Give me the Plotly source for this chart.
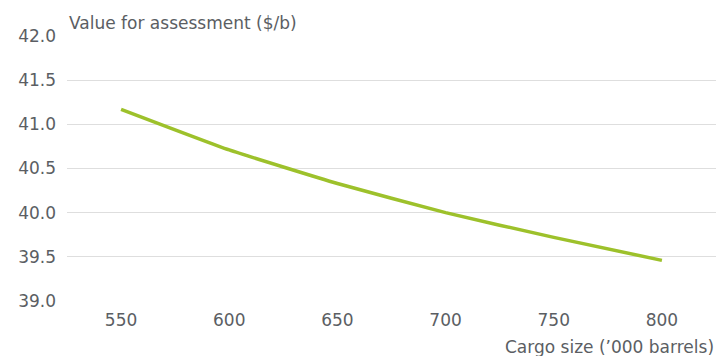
import plotly.graph_objects as go

cargo_sizes = ["550", "600", "650", "700", "750", "800"]
values = [41.17, 40.71, 40.33, 40.00, 39.72, 39.46]
y_ticks = [39.0, 39.5, 40.0, 40.5, 41.0, 41.5, 42.0]
y_tick_labels = ["39.0", "39.5", "40.0", "40.5", "41.0", "41.5", "42.0"]

text_color = "#5b5e63"
font_family = "DejaVu Sans, sans-serif"
fs = 17

fig = go.Figure(
    go.Scatter(
        x=cargo_sizes,
        y=values,
        mode="lines",
        line=dict(color="#9dc12b", width=3.5, shape="spline", smoothing=0.4),
        hoverinfo="skip",
    )
)

fig.update_layout(
    width=725,
    height=356,
    margin=dict(l=67, r=9, t=36, b=55),
    paper_bgcolor="white",
    plot_bgcolor="white",
    showlegend=False,
    font=dict(family=font_family, size=fs, color=text_color),
    xaxis=dict(
        type="category",
        showgrid=False,
        zeroline=False,
        showline=False,
        ticks="",
        ticklabelstandoff=7,
        tickfont=dict(size=fs, color=text_color),
        range=[-0.5, 5.5],
    ),
    yaxis=dict(
        range=[39.0, 42.0],
        tickvals=y_ticks,
        ticktext=y_tick_labels,
        showgrid=True,
        gridcolor="#dedede",
        gridwidth=1,
        zeroline=False,
        showline=False,
        ticks="",
        ticklabelstandoff=10,
        tickfont=dict(size=fs, color=text_color),
    ),
    annotations=[
        dict(
            text="Value for assessment ($/b)",
            xref="paper", yref="paper",
            x=0, y=1, xanchor="left", yanchor="bottom",
            yshift=1, showarrow=False,
            font=dict(size=fs, color=text_color),
        ),
        dict(
            text="Cargo size (’000 barrels)",
            xref="paper", yref="paper",
            x=1, y=0, xanchor="right", yanchor="top",
            yshift=-34, showarrow=False,
            font=dict(size=fs, color=text_color),
        ),
    ],
)

fig.write_html("out.html")
